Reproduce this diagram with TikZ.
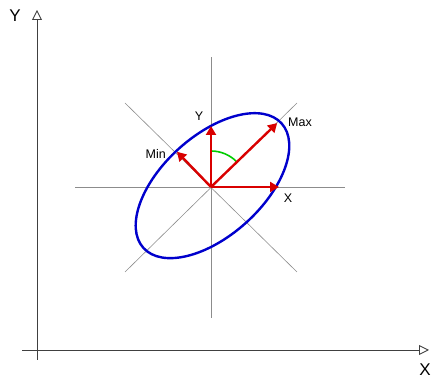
\documentclass[tikz,border=0pt]{standalone}
\usepackage{fontspec}
\setmainfont{Liberation Sans}
\usepackage{tikz}
\usetikzlibrary{calc,arrows.meta}

\begin{document}
\begin{tikzpicture}[x=1pt,y=1pt,
		axis/.style={line width=0.9pt,draw=black!75,-{Triangle[open,length=10pt,width=10pt]}},
		guide/.style={line width=0.6pt,draw=black!45},
		vec/.style={line width=2.4pt,draw=red!85!black,-{Triangle[length=9pt,width=10pt]}},
		ell/.style={line width=2.4pt,draw=blue!80!black},
		bigtxt/.style={font=\fontsize{17}{19}\selectfont,inner sep=0pt},
		smalltxt/.style={font=\fontsize{12.5}{14}\selectfont,inner sep=0pt},
		]
		\useasboundingbox (0,0) rectangle (432,379);
		% Parameter
		\def\a{93}
		\def\b{50}
		\def\rot{42}
		
		% Hauptachsen
		\coordinate (Y0) at (37,19);
		\coordinate (Y1) at (37,369);
		\coordinate (X0) at (22,29);
		\coordinate (X1) at (429,29);
		\draw[axis] (Y0)--(Y1);
		\draw[axis] (X0)--(X1);
		\node[bigtxt] (labY) at (15,363) {Y};
		\node[bigtxt] (labX) at (425,9) {X};
		
		% Mittelpunkt und Hilfslinien
		\coordinate (O) at (211,192);
		\coordinate (H0) at (75,192);
		\coordinate (H1) at (345,192);
		\coordinate (V0) at (211,61);
		\coordinate (V1) at (211,322);
		\coordinate (DLL) at (125,107);
		\coordinate (DUR) at (297,276);
		\coordinate (DUL) at (125,276);
		\coordinate (DLR) at (297,107);
		\draw[guide] (H0)--(H1);
		\draw[guide] (V0)--(V1);
		\draw[guide] (DLL)--(DUR);
		\draw[guide] (DUL)--(DLR);
		
		% Ellipse
		\draw[ell,rotate around={\rot:($(O)+(2,0)$)}] ($(O)+(2,0)$) ellipse ({\a} and {\b});
		
		% Vektoren
		\coordinate (Pmax) at ($(O)+(44:92)$);
		\coordinate (Pmin) at ($(O)+(134:49)$);
		\coordinate (Py) at ($(O)+(0,61)$);
		\coordinate (Px) at ($(O)+(68,0)$);
		
		% Winkel
		\draw[line width=1.6pt,draw=green!80!black] ($(O)+(90:36)$) arc (90:44:36);
		
		\draw[vec] (O)--(Pmax);
		\draw[vec] (O)--(Pmin);
		\draw[vec] (O)--(Py);
		\draw[vec] (O)--(Px);
		
		\node[smalltxt,anchor=west] (labMax) at (288,257) {Max};
		\node[smalltxt,anchor=east] (labMin) at (166,225) {Min};
		\node[smalltxt] (labYs) at (199,263) {Y};
		\node[smalltxt] (labXs) at (288,181) {X};
	\end{tikzpicture}
\end{document}
